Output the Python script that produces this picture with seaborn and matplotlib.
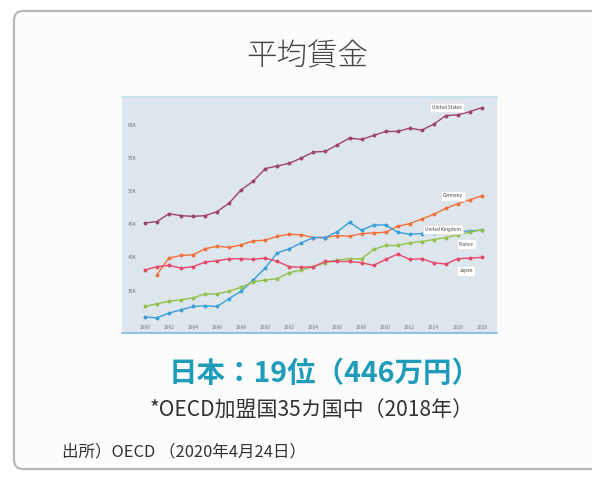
import pandas as pd
import matplotlib
matplotlib.use('Agg')
import matplotlib.pyplot as plt
from matplotlib.patches import FancyBboxPatch
import seaborn as sns

sns.set_theme(style='white')
plt.rcParams['font.family'] = ['Noto Sans CJK JP', 'DejaVu Sans']

# average wages (thousand USD)
years = list(range(1990, 2019))
us_wage = [45.2, 45.4, 46.6, 46.3, 46.2, 46.3, 46.9, 48.2, 50.2, 51.5,
           53.4, 53.8, 54.2, 55.0, 55.9, 56.0, 57.0, 58.0, 57.8, 58.4,
           59.0, 59.0, 59.5, 59.2, 60.1, 61.4, 61.5, 62.0, 62.6]
germany_years = years[1:]
germany_wage = [37.4, 39.9, 40.3, 40.4, 41.3, 41.7, 41.5, 41.9, 42.5,
                42.6, 43.2, 43.5, 43.4, 43.0, 43.0, 43.3, 43.2, 43.6, 43.7,
                43.8, 44.7, 45.1, 45.8, 46.5, 47.4, 48.1, 48.7, 49.3]
uk_wage = [31.0, 30.9, 31.6, 32.1, 32.6, 32.7, 32.6, 33.8, 34.9, 36.6,
           38.4, 40.7, 41.3, 42.2, 43.0, 43.0, 43.9, 45.3, 44.1, 44.9,
           44.9, 43.8, 43.5, 43.6, 43.7, 43.8, 43.9, 44.0, 44.1]
france_wage = [32.6, 33.0, 33.4, 33.6, 33.9, 34.5, 34.5, 34.9, 35.5, 36.3,
               36.6, 36.8, 37.7, 38.1, 38.6, 39.2, 39.6, 39.8, 39.8, 41.2,
               41.8, 41.8, 42.2, 42.4, 42.7, 43.0, 43.4, 43.8, 44.2]
japan_wage = [38.1, 38.6, 38.8, 38.4, 38.6, 39.3, 39.5, 39.8, 39.8, 39.7,
              39.9, 39.4, 38.6, 38.5, 38.6, 39.4, 39.4, 39.4, 39.2, 38.8,
              39.7, 40.5, 39.7, 39.8, 39.2, 39.0, 39.8, 39.9, 40.0]

countries = ['United States', 'Germany', 'United Kingdom', 'France', 'Japan']
colors = ['#a0426f', '#f2703a', '#3a9fd8', '#95c04a', '#e8466a']
ytick_vals = [35, 40, 45, 50, 55, 60]
ytick_labels = ['35K', '40K', '45K', '50K', '55K', '60K']
xtick_vals = list(range(1990, 2019, 2))

df = pd.concat([
    pd.DataFrame({'year': years, 'wage': us_wage, 'country': countries[0]}),
    pd.DataFrame({'year': germany_years, 'wage': germany_wage, 'country': countries[1]}),
    pd.DataFrame({'year': years, 'wage': uk_wage, 'country': countries[2]}),
    pd.DataFrame({'year': years, 'wage': france_wage, 'country': countries[3]}),
    pd.DataFrame({'year': years, 'wage': japan_wage, 'country': countries[4]}),
])

W, H = 592, 478
fig = plt.figure(figsize=(W / 100, H / 100), dpi=100)
fig.patch.set_facecolor('white')

# card in pixel coords
bg = fig.add_axes([0, 0, 1, 1], zorder=0)
bg.set_xlim(0, W)
bg.set_ylim(H, 0)
bg.axis('off')
bg.add_patch(FancyBboxPatch((14, 11), 620, 458, boxstyle='round,pad=0,rounding_size=9',
                            facecolor='#fcfcfc', edgecolor='#b8b8b8', linewidth=1.6))
bg.text(307, 56, '平均賃金', fontsize=22, fontweight='light', color='#474747',
        ha='center', va='center')
bg.text(325, 374, '日本：19位（446万円）', fontsize=20.5, fontweight='bold',
        color='#1f9cba', ha='center', va='center')
bg.text(312, 411, '*OECD加盟国35カ国中（2018年）', fontsize=15.1, color='#333333',
        ha='center', va='center')
bg.text(62, 452, '出所）OECD （2020年4月24日）', fontsize=11.9, color='#333333',
        ha='left', va='center')

# inner chart
ax = fig.add_axes([122 / W, 1 - 333 / H, 375 / W, 236 / H], zorder=1)
ax.set_facecolor('#dce6ec')
sns.lineplot(data=df, x='year', y='wage', hue='country', palette=dict(zip(countries, colors)),
             marker='o', markersize=2.8, markeredgewidth=0, linewidth=1.0,
             legend=False, sort=False, ax=ax)
ax.set_xlim(1988.1, 2019.25)
ax.set_ylim(28.6, 64.2)
ax.set_xlabel('')
ax.set_ylabel('')
ax.set_xticks(xtick_vals)
ax.set_xticklabels([str(y) for y in xtick_vals])
ax.set_yticks(ytick_vals)
ax.set_yticklabels(ytick_labels)
ax.tick_params(axis='x', length=0, pad=-6, labelsize=3.6, labelcolor='#777777')
ax.tick_params(axis='y', length=0, pad=-4.5, labelsize=3.6, labelcolor='#777777')
for lab in ax.get_yticklabels():
    lab.set_horizontalalignment('left')
for side in ['left', 'right']:
    ax.spines[side].set_visible(False)
ax.spines['top'].set_color('#bfe3ea')
ax.spines['top'].set_linewidth(1.2)
ax.spines['bottom'].set_color('#7fb8dc')
ax.spines['bottom'].set_linewidth(1.2)

box = dict(boxstyle='square,pad=0.5', facecolor='white', edgecolor='#dddddd', linewidth=0.4)
label_pos = [(2015.1, 62.6), (2015.6, 49.3), (2014.75, 44.2), (2016.7, 42.0), (2016.7, 38.0)]
for name, (lx, ly) in zip(countries, label_pos):
    ax.text(lx, ly, name, fontsize=3.4, color='#444444', ha='center', va='center',
            bbox=box, zorder=5)

fig.savefig('out.png', dpi=100)
